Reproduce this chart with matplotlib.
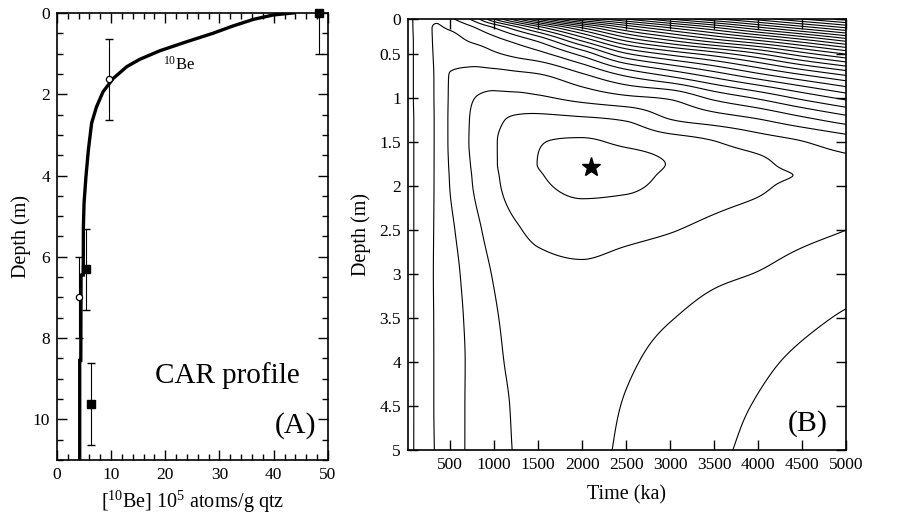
import numpy as np
import matplotlib
matplotlib.use("Agg")
import matplotlib.pyplot as plt
from matplotlib.ticker import MultipleLocator

plt.rcParams['font.family'] = ['Liberation Serif', 'DejaVu Serif']
plt.rcParams['mathtext.fontset'] = 'custom'
plt.rcParams['mathtext.rm'] = 'Liberation Serif'
plt.rcParams['mathtext.it'] = 'Liberation Serif:italic'

# --- (A) 10Be profile ---
# model curve (depth in m, 10Be in 1e5 at/g)
curve_depth = [0.0, 0.05, 0.16, 0.32, 0.50, 0.71, 0.93, 1.14, 1.32, 1.61, 1.94,
               2.31, 2.71, 3.37, 4.03, 4.68, 5.26, 6.45, 6.45, 8.55, 8.55, 11.0]
curve_be = [43.6, 39.9, 36.2, 32.5, 28.8, 23.9, 19.0, 15.3, 12.9, 10.4, 8.5,
            7.3, 6.4, 5.8, 5.35, 5.0, 4.88, 4.85, 4.45, 4.4, 4.2, 4.2]

# samples: filled squares and open circles, depth error +-1 m
sq_be = [48.3, 5.35, 6.2]
sq_depth = [0.0, 6.31, 9.62]
sq_err = [1.0, 1.0, 1.0]
ci_be = [9.6, 4.1]
ci_depth = [1.63, 7.0]
ci_err = [1.0, 1.0]

# --- (B) misfit surface, level values ---
t_nodes = [20, 150, 350, 500, 750, 1000, 1250, 1500, 2000, 2500, 3000, 3500, 4000, 4500, 5000]
z_nodes = [0.1, 0.2, 0.35, 0.5, 0.75, 1.0, 1.25, 1.5, 1.75, 1.875, 2.0, 2.5, 3.0, 3.5, 4.0, 4.5, 5.0]
misfit = [
    [6.40, 5.55, 5.10, 5.75, 7.20, 10.0, 12.7, 15.2, 19.0, 21.0, 23.0, 24.8, 26.4, 28.0, 29.4],
    [6.40, 5.55, 4.93, 5.10, 5.85, 7.00, 8.60, 10.4, 14.0, 17.0, 19.0, 20.8, 22.7, 24.4, 26.0],
    [6.40, 5.60, 4.88, 4.72, 5.10, 5.60, 6.25, 7.10, 10.0, 13.0, 14.8, 16.4, 17.8, 19.4, 21.1],
    [6.40, 5.60, 4.85, 4.40, 4.45, 4.85, 5.25, 5.65, 7.30, 9.80, 11.2, 12.4, 13.8, 15.5, 17.0],
    [6.40, 5.60, 4.85, 3.95, 3.70, 3.60, 3.70, 3.85, 4.75, 6.00, 7.05, 8.25, 9.50, 10.7, 11.85],
    [6.40, 5.60, 4.85, 3.88, 3.05, 2.75, 2.75, 2.85, 3.30, 3.75, 4.10, 5.20, 6.10, 7.20, 8.25],
    [6.40, 5.65, 4.85, 3.85, 2.90, 2.20, 1.85, 1.70, 1.80, 2.05, 2.95, 3.40, 3.90, 4.65, 5.45],
    [6.40, 5.65, 4.85, 3.85, 2.87, 2.08, 1.60, 1.06, 0.85, 1.20, 1.55, 1.95, 2.50, 2.95, 3.45],
    [6.40, 5.65, 4.85, 3.90, 2.93, 2.10, 1.50, 0.98, 0.35, 0.55, 1.05, 1.45, 1.78, 2.40, 2.75],
    [6.40, 5.65, 4.85, 3.94, 2.98, 2.15, 1.55, 1.09, 0.55, 0.70, 1.15, 1.52, 1.75, 2.08, 2.65],
    [6.40, 5.65, 4.85, 3.97, 3.02, 2.20, 1.60, 1.20, 0.75, 0.85, 1.25, 1.60, 1.85, 2.30, 2.60],
    [6.40, 5.65, 4.85, 4.20, 3.35, 2.60, 2.10, 1.80, 1.60, 1.75, 1.95, 2.25, 2.55, 2.80, 3.00],
    [6.40, 5.65, 4.85, 4.35, 3.60, 2.93, 2.50, 2.25, 2.15, 2.35, 2.60, 2.85, 3.03, 3.30, 3.55],
    [6.40, 5.65, 4.87, 4.40, 3.75, 3.10, 2.70, 2.45, 2.45, 2.70, 2.97, 3.25, 3.50, 3.80, 4.10],
    [6.40, 5.65, 4.88, 4.45, 3.80, 3.20, 2.80, 2.55, 2.60, 2.90, 3.25, 3.55, 3.85, 4.15, 4.45],
    [6.40, 5.65, 4.88, 4.45, 3.80, 3.30, 2.90, 2.65, 2.70, 3.05, 3.45, 3.75, 4.05, 4.35, 4.65],
    [6.40, 5.65, 4.90, 4.45, 3.80, 3.30, 2.95, 2.75, 2.75, 3.15, 3.50, 3.85, 4.20, 4.55, 4.80],
]
best_t = [2100]
best_z = [1.78]


def pchip(x, y, xn):
    # monotone cubic, so the smoothed surface keeps the read contour order
    x = np.asarray(x, float)
    y = np.asarray(y, float)
    h = np.diff(x)
    d = np.diff(y) / h
    m = np.zeros_like(y)
    m[0], m[-1] = d[0], d[-1]
    for k in range(1, len(x) - 1):
        if d[k - 1] * d[k] > 0:
            w1 = 2 * h[k] + h[k - 1]
            w2 = h[k] + 2 * h[k - 1]
            m[k] = (w1 + w2) / (w1 / d[k - 1] + w2 / d[k])
    i = np.clip(np.searchsorted(x, xn) - 1, 0, len(x) - 2)
    s = (xn - x[i]) / h[i]
    return ((2 * s**3 - 3 * s**2 + 1) * y[i] + (s**3 - 2 * s**2 + s) * h[i] * m[i]
            + (-2 * s**3 + 3 * s**2) * y[i + 1] + (s**3 - s**2) * h[i] * m[i + 1])


tf = np.linspace(t_nodes[0], t_nodes[-1], 600)
zf = np.linspace(z_nodes[0], z_nodes[-1], 400)
F = np.array(misfit)
Ft = np.array([pchip(t_nodes, row, tf) for row in F])
Ff = np.array([pchip(z_nodes, Ft[:, j], zf) for j in range(len(tf))]).T
T, Z = np.meshgrid(tf, zf)

fig = plt.figure(figsize=(8.97, 5.18), dpi=100)
axA = fig.add_axes([0.0635, 0.112, 0.302, 0.863])
axB = fig.add_axes([0.4548, 0.1313, 0.4883, 0.832])

# panel A
axA.plot(curve_be, curve_depth, color='black', lw=2.4, solid_joinstyle='miter')
axA.errorbar(sq_be, sq_depth, yerr=sq_err, fmt='none', ecolor='black', elinewidth=0.8, capsize=3)
axA.errorbar(ci_be, ci_depth, yerr=ci_err, fmt='none', ecolor='black', elinewidth=0.8, capsize=3)
axA.plot(sq_be, sq_depth, 's', color='black', ms=5.5, clip_on=False, zorder=5)
axA.plot(ci_be, ci_depth, 'o', mfc='white', mec='black', mew=0.9, ms=4.5, clip_on=False, zorder=5)
axA.set_xlim(0, 50)
axA.set_ylim(11, 0)
axA.xaxis.set_major_locator(MultipleLocator(10))
axA.xaxis.set_minor_locator(MultipleLocator(2))
axA.yaxis.set_major_locator(MultipleLocator(2))
axA.yaxis.set_minor_locator(MultipleLocator(0.5))
axA.set_xlabel(r'[$^{10}$Be] 10$^{5}$ atoms/g qtz', fontsize=14.5, labelpad=4)
axA.set_ylabel('Depth (m)', fontsize=14.5, labelpad=1)
axA.text(19.6, 1.28, r'$^{10}$Be', fontsize=12, ha='left', va='center')
axA.text(44.8, 8.93, 'CAR profile', fontsize=21, ha='right', va='center')
axA.text(47.8, 10.15, '(A)', fontsize=21.5, ha='right', va='center')

# panel B
axB.contour(T, Z, Ff, levels=np.arange(1, 30), colors='black', linewidths=0.8)
axB.plot(best_t, best_z, '*', color='black', ms=14)
axB.set_xlim(20, 5000)
axB.set_ylim(5, 0.1)
axB.set_xticks(np.arange(500, 5001, 500))
axB.set_yticks([0.1, 0.5, 1, 1.5, 2, 2.5, 3, 3.5, 4, 4.5, 5])
axB.set_yticklabels(['0', '0.5', '1', '1.5', '2', '2.5', '3', '3.5', '4', '4.5', '5'])
axB.set_xlabel('Time (ka)', fontsize=14.5, labelpad=9)
axB.set_ylabel('Depth (m)', fontsize=14.5, labelpad=6)
axB.text(4790, 4.7, '(B)', fontsize=21.5, ha='right', va='center')

for ax in (axA, axB):
    ax.tick_params(which='both', direction='in', top=True, right=True, labelsize=12.5, pad=5)
    ax.tick_params(which='major', length=7, width=1.0)
    ax.tick_params(which='minor', length=4, width=1.0)
    for sp in ax.spines.values():
        sp.set_linewidth(1.2)

fig.savefig('out.png', dpi=100)
